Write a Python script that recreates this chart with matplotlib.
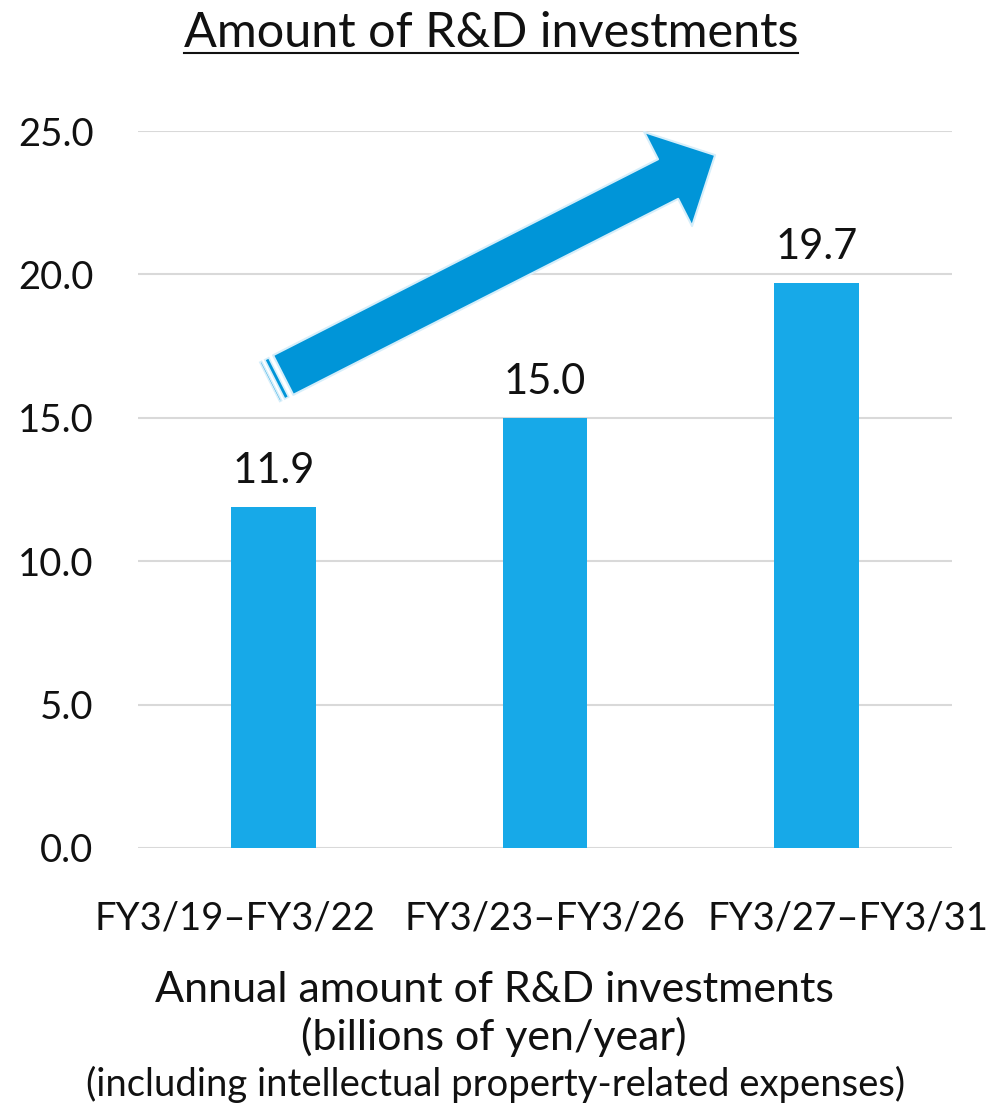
import matplotlib
matplotlib.use("Agg")
import matplotlib.pyplot as plt
from matplotlib.patches import FancyArrowPatch, Polygon
from matplotlib.transforms import ScaledTranslation
import numpy as np

categories = ["FY3/19\u2013FY3/22", "FY3/23\u2013FY3/26", "FY3/27\u2013FY3/31"]
values = [11.9, 15.0, 19.7]
value_labels = ["11.9", "15.0", "19.7"]
yticks = [0, 5, 10, 15, 20, 25]
title = "Amount of R&D investments"
caption = ["Annual amount of R&D investments", "(billions of yen/year)"]
caption_small = "(including intellectual property-related expenses)"

FONT = ["Lato", "DejaVu Sans"]
plt.rcParams['font.family'] = FONT

W, H = 1006, 1105
fig = plt.figure(figsize=(W / 100, H / 100), dpi=100)
ax = fig.add_axes([138 / W, 1 - 848 / H, (952 - 138) / W, (848 - 131) / H])

x = np.arange(len(categories))
ax.bar(x, values, width=0.313, color="#17A9E8", zorder=2)
ax.set_xlim(-0.5, 2.5)
ax.set_ylim(0, 25)
ax.set_yticks(yticks)
ax.set_yticklabels([f"{v:.1f}" for v in yticks], fontsize=27.5)
ax.yaxis.grid(True, color="#D9D9D9", linewidth=1.5, zorder=0)
ax.set_axisbelow(True)
for s in ax.spines.values():
    s.set_visible(False)
ax.tick_params(axis="both", length=0, labelcolor="#111111")
ax.tick_params(axis="y", pad=32)
ax.set_xticks(x)
ax.set_xticklabels(categories, fontsize=27.5)
ax.tick_params(axis="x", pad=38)
shifts = [-39, 0, 32]
for lab, dx in zip(ax.get_xticklabels(), shifts):
    lab.set_transform(lab.get_transform() + ScaledTranslation(dx / 100, 0, fig.dpi_scale_trans))

for xi, v, t in zip(x, values, value_labels):
    ax.annotate(t, (xi, v), xytext=(0, 12), textcoords="offset points",
                ha="center", va="bottom", fontsize=30, color="#111111")

# arrow
start = (0.035, 16.49)
end = (1.627, 24.16)
arr = FancyArrowPatch(start, end, arrowstyle="simple,head_length=38,head_width=76,tail_width=32",
                      mutation_scale=1, facecolor="#0095D8", edgecolor="#D6EEFA",
                      linewidth=1.5, zorder=5, shrinkA=0, shrinkB=0)
ax.add_patch(arr)

# tail stripes
fig.canvas.draw()
p0 = ax.transData.transform(start)
p1 = ax.transData.transform(end)
d = (p1 - p0) / np.linalg.norm(p1 - p0)
n = np.array([-d[1], d[0]])
half = 22
inv = ax.transData.inverted()
for off, wdt in [(5, 4.5), (13, 2)]:
    a = p0 - d * off
    b = a - d * wdt
    pts = [a + n * half, a - n * half, b - n * half, b + n * half]
    ax.add_patch(Polygon(inv.transform(pts), closed=True, facecolor="#0095D8",
                         edgecolor="#D6EEFA", linewidth=1.2, zorder=5))

# title with underline
tt = fig.text(491 / W, 1 - 47 / H, title, ha="center", va="baseline", fontsize=35, color="#111111")
fig.canvas.draw()
bb = tt.get_window_extent()
fig.add_artist(plt.Line2D([bb.x0 / W, bb.x1 / W], [1 - 53 / H, 1 - 53 / H],
                          color="#111111", linewidth=1.5))

fig.text(494 / W, 1 - 1002 / H, caption[0], ha="center", va="baseline", fontsize=31, color="#111111")
fig.text(494 / W, 1 - 1050 / H, caption[1], ha="center", va="baseline", fontsize=31, color="#111111")
fig.text(496 / W, 1 - 1096 / H, caption_small, ha="center", va="baseline", fontsize=27.5, color="#111111")

fig.savefig("out.png", dpi=100, facecolor="white")
